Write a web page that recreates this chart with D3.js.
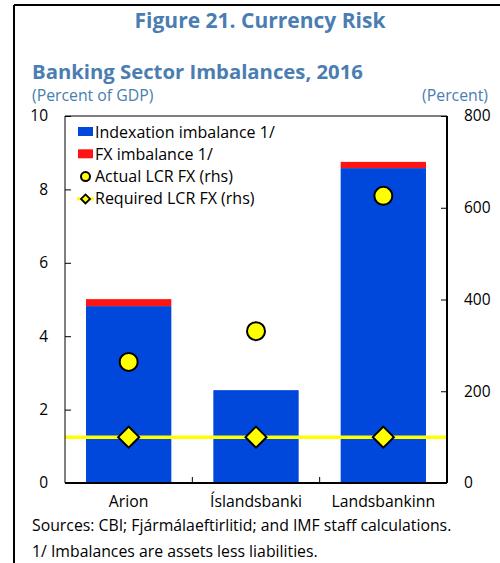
<!DOCTYPE html>
<html>
<head>
<meta charset="utf-8">
<script src="https://cdn.jsdelivr.net/npm/d3@7"></script>
<style>
  body { margin: 0; background: #fff; }
  svg { display: block; font-family: "Open Sans", "Noto Sans", sans-serif; }
</style>
</head>
<body>
<div id="chart"></div>
<script>
// data
const banks = ["Arion", "Íslandsbanki", "Landsbankinn"];
const indexation = [4.82, 2.53, 8.58];
const fxImbalance = [0.19, 0.0, 0.17];
const actualLcr = [264, 331, 626];
const requiredLcr = [100, 100, 100];
const leftTicks = [0, 2, 4, 6, 8, 10];
const rightTicks = [0, 200, 400, 600, 800];

const width = 500, height = 563;
const margin = { left: 65, right: 53, top: 116, bottom: 80 };
const plotW = width - margin.left - margin.right;
const plotH = height - margin.top - margin.bottom;

const titleBlue = "#4a7db1";
const barBlue = "#0047db";
const fxRed = "#ff1414";
const yellow = "#ffff00";

const svg = d3.select("#chart")
    .append("svg")
    .attr("width", width)
    .attr("height", height);

// frame of the page box
svg.append("line").attr("x1", 14).attr("x2", width).attr("y1", 5).attr("y2", 5)
    .style("stroke", "#000").style("stroke-width", 2);
svg.append("line").attr("x1", 14).attr("x2", 14).attr("y1", 5).attr("y2", height)
    .style("stroke", "#000").style("stroke-width", 2);

// titles
svg.append("text")
    .attr("x", 260).attr("y", 28)
    .attr("text-anchor", "middle")
    .style("fill", titleBlue).style("font-size", "21px").style("font-weight", "bold")
    .text("Figure 21. Currency Risk");

svg.append("text")
    .attr("x", 32).attr("y", 79)
    .style("fill", titleBlue).style("font-size", "20.3px").style("font-weight", "bold")
    .text("Banking Sector Imbalances, 2016");

svg.append("text")
    .attr("x", 32).attr("y", 101)
    .style("fill", titleBlue).style("font-size", "15.8px")
    .text("(Percent of GDP)");

svg.append("text")
    .attr("x", 488).attr("y", 101)
    .attr("text-anchor", "end")
    .style("fill", titleBlue).style("font-size", "15.8px")
    .text("(Percent)");

const g = svg.append("g")
    .attr("transform", `translate(${margin.left},${margin.top})`);

const x = d3.scaleBand().domain(banks).range([0, plotW]).paddingInner(0.33).paddingOuter(0.165);
const xBand = d3.scaleBand().domain(banks).range([0, plotW]);
const yL = d3.scaleLinear().domain([0, 10]).range([plotH, 0]);
const yR = d3.scaleLinear().domain([0, 800]).range([plotH, 0]);

// bars
g.selectAll("rect.idx")
    .data(banks)
    .enter().append("rect")
    .attr("class", "idx")
    .attr("x", d => x(d))
    .attr("width", x.bandwidth())
    .attr("y", (d, i) => yL(indexation[i]))
    .attr("height", (d, i) => yL(0) - yL(indexation[i]))
    .style("fill", barBlue);

g.selectAll("rect.fx")
    .data(banks)
    .enter().append("rect")
    .attr("class", "fx")
    .attr("x", d => x(d))
    .attr("width", x.bandwidth())
    .attr("y", (d, i) => yL(indexation[i] + fxImbalance[i]))
    .attr("height", (d, i) => yL(indexation[i]) - yL(indexation[i] + fxImbalance[i]))
    .style("fill", fxRed);

// required LCR line across the plot
g.append("line")
    .attr("x1", 0).attr("x2", plotW)
    .attr("y1", yR(requiredLcr[0])).attr("y2", yR(requiredLcr[0]))
    .style("stroke", yellow).style("stroke-width", 3.5);

// axes
g.append("line").attr("x1", 0).attr("x2", 0).attr("y1", 0).attr("y2", plotH)
    .style("stroke", "#000").style("stroke-width", 1);
g.append("line").attr("x1", plotW).attr("x2", plotW).attr("y1", 0).attr("y2", plotH)
    .style("stroke", "#000").style("stroke-width", 2);
g.append("line").attr("x1", 0).attr("x2", plotW).attr("y1", 0).attr("y2", 0)
    .style("stroke", "#000").style("stroke-width", 1);
g.append("line").attr("x1", 0).attr("x2", plotW).attr("y1", plotH).attr("y2", plotH)
    .style("stroke", "#000").style("stroke-width", 2);

const axisLeft = g.append("g")
    .call(d3.axisLeft(yL).tickValues(leftTicks).tickSize(-6).tickPadding(17));
const axisRight = g.append("g")
    .attr("transform", `translate(${plotW},0)`)
    .call(d3.axisRight(yR).tickValues(rightTicks).tickSize(-6).tickPadding(17));
[axisLeft, axisRight].forEach(a => {
    a.select(".domain").remove();
    a.selectAll("text").style("font-size", "15.5px").style("fill", "#000")
        .style("font-family", "'Open Sans', 'Noto Sans', sans-serif");
    a.selectAll("line").style("stroke", "#000");
});

// category divider ticks on the bottom axis
g.selectAll("line.cat")
    .data(banks.slice(1))
    .enter().append("line")
    .attr("class", "cat")
    .attr("x1", d => xBand(d)).attr("x2", d => xBand(d))
    .attr("y1", plotH).attr("y2", plotH - 6)
    .style("stroke", "#000");

g.selectAll("text.cat")
    .data(banks)
    .enter().append("text")
    .attr("class", "cat")
    .attr("x", d => x(d) + x.bandwidth() / 2)
    .attr("y", plotH + 24)
    .attr("text-anchor", "middle")
    .style("font-size", "15.8px")
    .text(d => d);

// actual LCR circles
g.selectAll("circle.act")
    .data(banks)
    .enter().append("circle")
    .attr("class", "act")
    .attr("cx", d => x(d) + x.bandwidth() / 2)
    .attr("cy", (d, i) => yR(actualLcr[i]))
    .attr("r", 9)
    .style("fill", yellow).style("stroke", "#000").style("stroke-width", 2);

// required LCR diamonds
const diamond = s => `M0,${-s}L${s},0L0,${s}L${-s},0Z`;
g.selectAll("path.req")
    .data(banks)
    .enter().append("path")
    .attr("class", "req")
    .attr("transform", (d, i) => `translate(${x(d) + x.bandwidth() / 2},${yR(requiredLcr[i])})`)
    .attr("d", diamond(10.5))
    .style("fill", yellow).style("stroke", "#000").style("stroke-width", 2);

// legend
const legendItems = [
    { label: "Indexation imbalance 1/", type: "rect", color: barBlue },
    { label: "FX imbalance 1/", type: "rect", color: fxRed },
    { label: "Actual LCR FX (rhs)", type: "circle" },
    { label: "Required LCR FX (rhs)", type: "diamond" }
];
const legend = g.append("g").attr("transform", "translate(13,16)");
legendItems.forEach((item, i) => {
    const row = legend.append("g").attr("transform", `translate(0,${i * 22.3})`);
    if (item.type === "rect") {
        row.append("rect").attr("x", 0).attr("y", -5).attr("width", 15).attr("height", 9)
            .style("fill", item.color);
    } else if (item.type === "circle") {
        row.append("circle").attr("cx", 7.5).attr("cy", 0).attr("r", 4.5)
            .style("fill", yellow).style("stroke", "#000").style("stroke-width", 2);
    } else {
        row.append("line").attr("x1", -1).attr("x2", 16).attr("y1", 0).attr("y2", 0)
            .style("stroke", yellow).style("stroke-width", 3);
        row.append("path").attr("transform", "translate(7.5,0)").attr("d", diamond(4.5))
            .style("fill", yellow).style("stroke", "#000").style("stroke-width", 1.8);
    }
    row.append("text")
        .attr("x", 17).attr("y", 5.5)
        .style("font-size", "16px")
        .text(item.label);
});

// sources
svg.append("text")
    .attr("x", 32).attr("y", 531)
    .style("font-size", "15.8px")
    .text("Sources: CBI; Fjármálaeftirlitid; and IMF staff calculations.");
svg.append("text")
    .attr("x", 32).attr("y", 557)
    .style("font-size", "15.8px")
    .text("1/ Imbalances are assets less liabilities.");
</script>
</body>
</html>
